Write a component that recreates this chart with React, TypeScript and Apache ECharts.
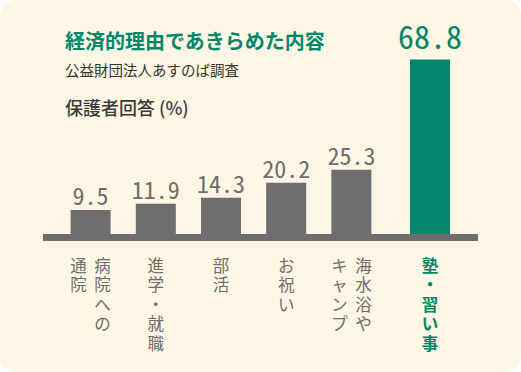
import React, { useEffect, useRef } from "react";
import * as echarts from "echarts";

const TITLE = "経済的理由であきらめた内容";
const SUBTITLE = "公益財団法人あすのば調査";
const UNIT_LABEL = "保護者回答 (%)";
// each category written vertically; first column is the right-most one
const categoryColumns: string[][] = [
  ["病院への", "通院"],
  ["進学・就職"],
  ["部活"],
  ["お祝い"],
  ["海水浴や", "キャンプ"],
  ["塾・習い事"],
];
const categories = categoryColumns.map((c) => c.join(""));
const values = [9.5, 11.9, 14.3, 20.2, 25.3, 68.8];
const highlightCount = 1; // last category is highlighted

const GRAY = "#6f6d6d";
const GREEN = "#00876b";
const BG = "#fdf6e4";
const JP = "'Noto Sans CJK JP', 'Noto Sans', sans-serif";
const MONO = "'Noto Sans Mono CJK JP', 'DejaVu Sans Mono', monospace";

function verticalLabel(name: string, key: string): string {
  const cols = categoryColumns[categories.indexOf(name)] || [name];
  const leftToRight = [...cols].reverse().map((c) => Array.from(c));
  const rows = Math.max(...leftToRight.map((c) => c.length));
  const lines: string[] = [];
  for (let r = 0; r < rows; r++) {
    lines.push(leftToRight.map((col) => `{${key}|${col[r] ?? "　"}}`).join(""));
  }
  return lines.join("\n");
}

export default function App() {
  const ref = useRef<HTMLDivElement>(null);
  useEffect(() => {
    document.body.style.margin = "0";
    if (!ref.current) return;
    const chart = echarts.init(ref.current, undefined, { renderer: "svg" });
    const split = categories.length - highlightCount;
    const catA = categories.slice(0, split);
    const catB = categories.slice(split);
    const valA = values.slice(0, split);
    const valB = values.slice(split);

    const rich = {
      g: { width: 24, align: "center", fontSize: 16.5, lineHeight: 19.5, color: GRAY, fontFamily: JP },
      h: { width: 24, align: "center", fontSize: 16.5, lineHeight: 19.5, color: GREEN, fontFamily: JP, fontWeight: "bold" },
    };
    const xAxisCommon = {
      type: "category",
      axisLine: { show: false },
      axisTick: { show: false },
      splitLine: { show: false },
    };
    const gridTop = 31;
    const gridHeight = 203;
    const option: any = {
      animation: false,
      backgroundColor: "transparent",
      textStyle: { fontFamily: JP },
      grid: [
        { left: 58, top: gridTop, width: 326, height: gridHeight, outerBoundsMode: "none", containLabel: false },
        { left: 384, top: gridTop, width: 92, height: gridHeight, outerBoundsMode: "none", containLabel: false },
      ],
      xAxis: [
        {
          ...xAxisCommon,
          gridIndex: 0,
          data: catA,
          axisLabel: { interval: 0, margin: 21, formatter: (v: string) => verticalLabel(v, "g"), rich },
        },
        {
          ...xAxisCommon,
          gridIndex: 1,
          data: catB,
          axisLabel: { interval: 0, margin: 21, formatter: (v: string) => verticalLabel(v, "h"), rich },
        },
      ],
      yAxis: [
        { type: "value", gridIndex: 0, min: 0, max: 80, show: false, splitLine: { show: false } },
        { type: "value", gridIndex: 1, min: 0, max: 80, show: false, splitLine: { show: false } },
      ],
      series: [
        {
          type: "bar",
          xAxisIndex: 0,
          yAxisIndex: 0,
          data: valA,
          barWidth: 40,
          itemStyle: { color: GRAY },
          label: {
            show: true,
            position: "top",
            distance: 3,
            color: GRAY,
            fontSize: 24,
            fontFamily: MONO,
            formatter: "{c}",
          },
        },
        {
          type: "bar",
          xAxisIndex: 1,
          yAxisIndex: 1,
          data: valB,
          barWidth: 40,
          itemStyle: { color: GREEN },
          label: {
            show: true,
            position: "top",
            distance: 8,
            color: GREEN,
            fontSize: 32,
            fontFamily: MONO,
            formatter: "{c}",
          },
        },
      ],
      graphic: [
        {
          type: "rect",
          shape: { x: 43, y: 234, width: 435, height: 7 },
          style: { fill: GRAY },
          z: 10,
        },
        {
          type: "text",
          x: 65,
          y: 40,
          style: { text: TITLE, fill: GREEN, fontSize: 20, fontWeight: "bold", fontFamily: JP, verticalAlign: "middle", align: "left" },
        },
        {
          type: "text",
          x: 65,
          y: 69,
          style: { text: SUBTITLE, fill: "#333333", fontSize: 14.5, fontFamily: JP, verticalAlign: "middle", align: "left" },
        },
        {
          type: "text",
          x: 65,
          y: 107,
          style: { text: UNIT_LABEL, fill: "#3a3a3a", fontSize: 18, fontWeight: 500, fontFamily: JP, verticalAlign: "middle", align: "left" },
        },
      ],
    };
    chart.setOption(option);
    return () => chart.dispose();
  }, []);

  return (
    <div
      style={{
        position: "absolute",
        left: 0,
        top: 0,
        width: 521,
        height: 372,
        background: BG,
        borderRadius: 16,
        overflow: "hidden",
      }}
    >
      <div ref={ref} style={{ width: 521, height: 372 }} />
    </div>
  );
}
